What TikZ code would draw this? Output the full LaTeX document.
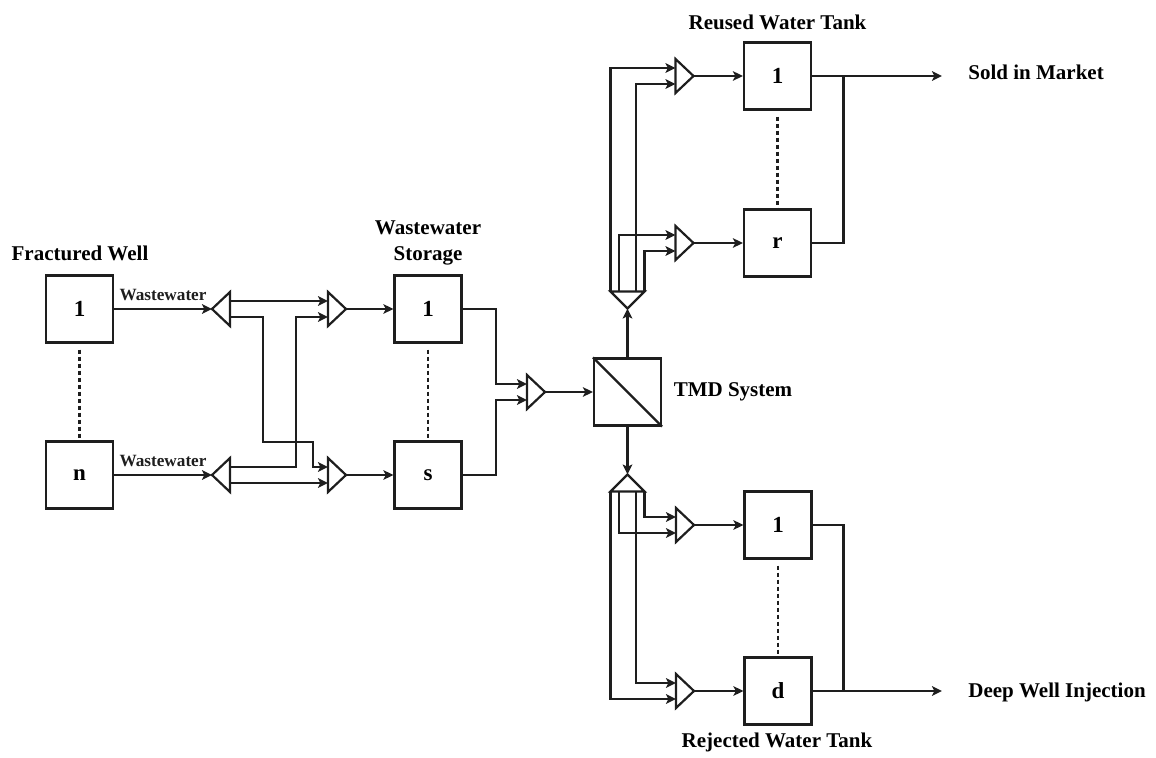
\documentclass[tikz,border=0pt]{standalone}
\usepackage{fontspec}
\setmainfont{Liberation Serif}
\usepackage{tikz}
\usetikzlibrary{calc,arrows.meta,positioning}
\definecolor{flowGray}{RGB}{30,30,30}

\tikzset{
  unit/.style={draw=flowGray, line width=1.1pt, minimum width=33.5pt, minimum height=33.5pt,
    inner sep=0pt, font=\fontsize{11.5}{13}\selectfont\bfseries},
  tri/.style={draw=flowGray, line width=1.1pt, line join=miter},
  pipe/.style={flowGray, line width=1.1pt},
  flow/.style={pipe, -{Stealth[length=5pt,width=4.8pt,inset=1.2pt]}},
  title/.style={font=\fontsize{10.5}{13}\selectfont\bfseries, inner sep=0pt},
  tag/.style={font=\fontsize{8.6}{10}\selectfont\bfseries, inner sep=0pt},
  gap/.style={pipe, dash pattern=on 2pt off 1.5pt},
}

% mixer pointing right: inputs -a, -b, output -o
\newcommand{\mergetri}[3]{%
  \coordinate (#1-a) at (#2-9,#3-8);
  \coordinate (#1-b) at (#2-9,#3+8);
  \coordinate (#1-o) at (#2+9,#3);
  \draw[tri] (#2-9,#3-17) -- (#2+9,#3) -- (#2-9,#3+17) -- cycle;}
% splitter pointing left: input -i, outputs -a, -b
\newcommand{\splittri}[3]{%
  \coordinate (#1-i) at (#2-9,#3);
  \coordinate (#1-a) at (#2+9,#3-8);
  \coordinate (#1-b) at (#2+9,#3+8);
  \draw[tri] (#2+9,#3-17) -- (#2-9,#3) -- (#2+9,#3+17) -- cycle;}

\begin{document}
\begin{tikzpicture}[x=0.5pt,y=-0.5pt]
\useasboundingbox (0,0) rectangle (1156,758);

% fractured wells
\node[unit] (w1) at (79.5,309) {1};
\node[unit] (wn) at (79.5,475) {n};
\node[title] (wtitle) at (80,253) {Fractured Well};
\draw[gap] ([yshift=-3pt]w1.south) -- (wn.north);

\splittri{sp1}{221}{309}
\splittri{sp2}{221}{475}
\mergetri{m1}{337}{309}
\mergetri{m2}{337}{475}

\draw[flow] (w1.east) -- node[tag, above=3.5pt] {Wastewater} (sp1-i);
\draw[flow] (wn.east) -- node[tag, above=3.5pt] {Wastewater} (sp2-i);
\draw[flow] (sp1-a) -- (m1-a);
\draw[flow] (sp1-b) -- ++(33,0) -- ++(0,125) -- ++(50,0) |- (m2-a);
\draw[flow] (sp2-a) -- ++(66,0) |- (m1-b);
\draw[flow] (sp2-b) -- (m2-b);

% wastewater storage
\node[unit] (s1) at (428,309) {1};
\node[unit] (ss) at (428,475) {s};
\node[title, align=center] (stitle) at (428,243) {Wastewater\\Storage};
\draw[gap] ([yshift=-3pt]s1.south) -- (ss.north);
\draw[flow] (m1-o) -- (s1.west);
\draw[flow] (m2-o) -- (ss.west);

\mergetri{m3}{536}{392}
\draw[flow] (s1.east) -- ++(33.5,0) |- (m3-a);
\draw[flow] (ss.east) -- ++(33.5,0) |- (m3-b);

% TMD unit
\node[unit] (tmd) at (627.5,392) {};
\draw[pipe] (tmd.north west) -- (tmd.south east);
\node[title] (tmdlabel) at (733,392) {TMD System};
\draw[flow] (m3-o) -- (tmd.west);

% splitters after TMD
\coordinate (ts-i) at (627.5,308.5);
\coordinate (bs-i) at (627.5,474.5);
\foreach \k/\dx in {1/-17,2/-8.5,3/8.5,4/17} {
  \coordinate (ts-\k) at (627.5+\dx,291.5);
  \coordinate (bs-\k) at (627.5+\dx,491.5);
}
\draw[tri] (610.5,291.5) -- (ts-i) -- (644.5,291.5) -- cycle;
\draw[tri] (610.5,491.5) -- (bs-i) -- (644.5,491.5) -- cycle;
\draw[flow] (tmd.north) -- (ts-i);
\draw[flow] (tmd.south) -- (bs-i);

% reused water tanks
\mergetri{mr1}{684.5}{76}
\mergetri{mrr}{684.5}{243}
\draw[flow] (ts-1) |- (mr1-a);
\draw[flow] (ts-3) |- (mr1-b);
\draw[flow] (ts-2) |- (mrr-a);
\draw[flow] (ts-4) |- (mrr-b);

\node[unit] (r1) at (777.5,76) {1};
\node[unit] (rr) at (777.5,243) {r};
\node[title] (rtitle) at (777.5,22) {Reused Water Tank};
\draw[gap] ([yshift=-3pt]r1.south) -- (rr.north);
\draw[flow] (mr1-o) -- (r1.west);
\draw[flow] (mrr-o) -- (rr.west);

\coordinate (sold) at (942,76);
\coordinate (joinR) at (843.5,76);
\node[title, anchor=west] (market) at (968,72) {Sold in Market};
\draw[flow] (r1.east) -- (sold);
\draw[pipe] (rr.east) -| (joinR);

% rejected water tanks
\mergetri{md1}{685}{525}
\mergetri{mdd}{685}{691}
\draw[flow] (bs-4) |- (md1-a);
\draw[flow] (bs-2) |- (md1-b);
\draw[flow] (bs-3) |- (mdd-a);
\draw[flow] (bs-1) |- (mdd-b);

\node[unit] (d1) at (778,525) {1};
\node[unit] (dd) at (778,691) {d};
\node[title] (dtitle) at (777,742) {Rejected Water Tank};
\draw[gap] ([yshift=-3pt]d1.south) -- (dd.north);
\draw[flow] (md1-o) -- (d1.west);
\draw[flow] (mdd-o) -- (dd.west);

\coordinate (inject) at (942,691);
\coordinate (joinD) at (843.5,691);
\node[title, anchor=base west] (deep) at (968,697) {Deep Well Injection};
\draw[flow] (dd.east) -- (inject);
\draw[pipe] (d1.east) -| (joinD);
\end{tikzpicture}
\end{document}
